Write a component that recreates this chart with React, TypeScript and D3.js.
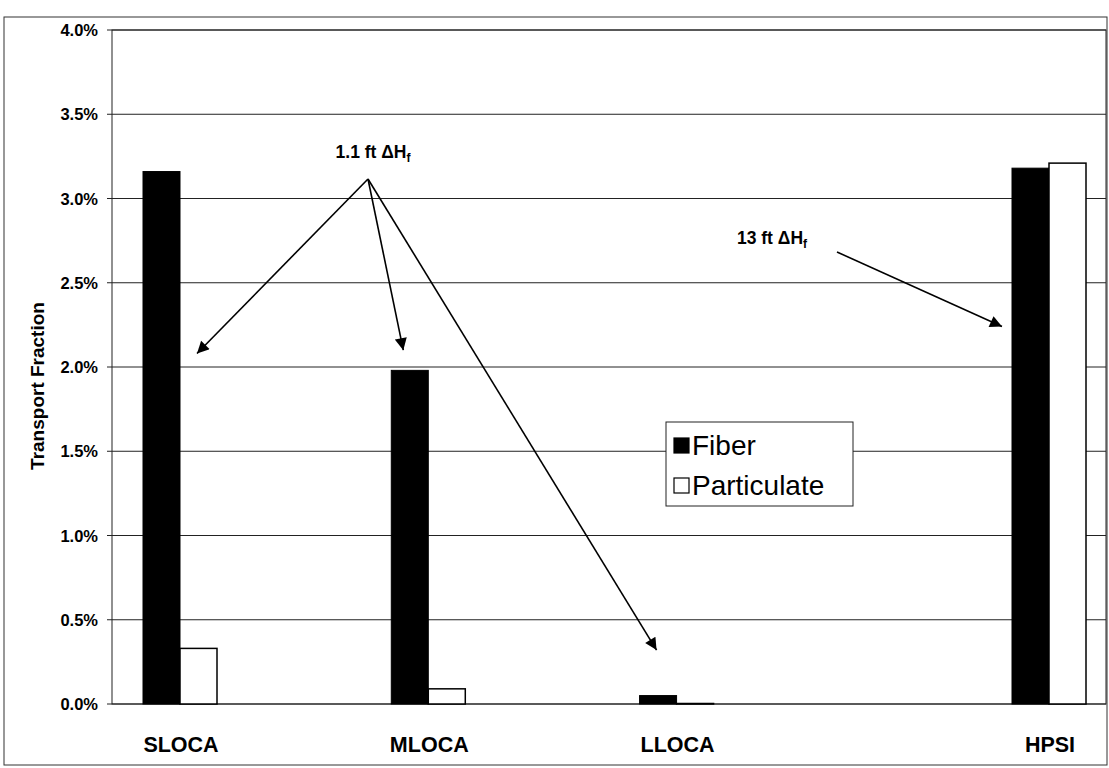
import React from "react";
import * as d3 from "d3";

// categories and their slot on the x axis (HPSI sits half a slot further out)
const categories = ["SLOCA", "MLOCA", "LLOCA", "HPSI"];
const categorySlots = [0, 1, 2, 3.5];
const fiberValues = [0.0316, 0.0198, 0.0005, 0.0318];
const particulateValues = [0.0033, 0.0009, 0.00003, 0.0321];
const yTicks = [0, 0.005, 0.01, 0.015, 0.02, 0.025, 0.03, 0.035, 0.04];
const seriesNames = ["Fiber", "Particulate"];

const W = 1109;
const H = 768;
const FONT = "'Liberation Sans', Arial, sans-serif";

const App = () => {
  const plot = { left: 112, right: 1106, top: 30, bottom: 704 };

  const y = d3.scaleLinear().domain([0, 0.04]).range([plot.bottom, plot.top]);
  const x = d3.scaleLinear().domain([0, 3.5]).range([180, 1049]);
  const barW = 37;
  const fmt = d3.format(".1%");

  // annotation arrows: start point in pixel space, end at a chart location
  const arrowFrom = { x: 368, y: 179 };
  const arrowTargets = [
    { x: x(categorySlots[0]) + 17, y: y(0.0208) },
    { x: x(categorySlots[1]) - 25, y: y(0.021) },
    { x: x(categorySlots[2]) - 20, y: y(0.0032) },
  ];
  const arrow2 = { x1: 837, y1: 252, x2: x(categorySlots[3]) - 47, y2: y(0.0224) };

  return (
    <svg width={W} height={H} style={{ display: "block", position: "absolute", left: 0, top: 0 }}>
      <defs>
        <marker id="ah" viewBox="0 0 10 10" refX="10" refY="5" markerWidth="15" markerHeight="12" orient="auto" markerUnits="userSpaceOnUse">
          <path d="M0,0 L10,5 L0,10 z" fill="#000" />
        </marker>
      </defs>
      <rect x={0} y={0} width={W} height={H} fill="#fff" />
      {/* outer frame */}
      <rect x={4} y={17} width={1103} height={748} fill="none" stroke="#333" strokeWidth={1} />

      {/* gridlines */}
      {yTicks.map((t) => (
        <g key={t}>
          <line x1={plot.left - 5} x2={plot.right} y1={y(t)} y2={y(t)} stroke="#222" strokeWidth={1} />
          <text x={plot.left - 14} y={y(t) + 6} textAnchor="end" fontFamily={FONT} fontWeight="bold" fontSize={16.5}>
            {fmt(t)}
          </text>
        </g>
      ))}
      <rect x={plot.left} y={plot.top} width={plot.right - plot.left} height={plot.bottom - plot.top} fill="none" stroke="#222" strokeWidth={1} />

      {/* bars */}
      {categories.map((c, i) => {
        const cx = x(categorySlots[i]);
        return (
          <g key={c}>
            <rect x={cx - barW} y={y(fiberValues[i])} width={barW} height={y(0) - y(fiberValues[i])} fill="#000" stroke="#000" />
            <rect x={cx} y={y(particulateValues[i])} width={barW} height={y(0) - y(particulateValues[i])} fill="#fff" stroke="#000" strokeWidth={1.5} />
            <text x={cx + 1} y={752} textAnchor="middle" fontFamily={FONT} fontWeight="bold" fontSize={21.5}>
              {c}
            </text>
          </g>
        );
      })}

      {/* y axis title */}
      <text transform="translate(44,386) rotate(-90)" textAnchor="middle" fontFamily={FONT} fontWeight="bold" fontSize={19}>
        Transport Fraction
      </text>

      {/* annotations */}
      <text x={373} y={158} textAnchor="middle" fontFamily={FONT} fontWeight="bold" fontSize={17.5}>
        1.1 ft ΔH<tspan fontSize={12} dy={4}>f</tspan>
      </text>
      {arrowTargets.map((t, i) => (
        <line key={i} x1={arrowFrom.x} y1={arrowFrom.y} x2={t.x} y2={t.y} stroke="#000" strokeWidth={1.6} markerEnd="url(#ah)" />
      ))}
      <text x={772} y={244} textAnchor="middle" fontFamily={FONT} fontWeight="bold" fontSize={17.5}>
        13 ft ΔH<tspan fontSize={12} dy={4}>f</tspan>
      </text>
      <line x1={arrow2.x1} y1={arrow2.y1} x2={arrow2.x2} y2={arrow2.y2} stroke="#000" strokeWidth={1.6} markerEnd="url(#ah)" />

      {/* legend */}
      <g transform="translate(666,422)">
        <rect x={0} y={0} width={187} height={84} fill="#fff" stroke="#222" strokeWidth={1} />
        {seriesNames.map((s, i) => (
          <g key={s} transform={`translate(0,${i * 40})`}>
            <rect x={8} y={16} width={15} height={15} fill={i === 0 ? "#000" : "#fff"} stroke="#000" strokeWidth={1.2} />
            <text x={26} y={33} fontFamily={FONT} fontSize={28}>
              {s}
            </text>
          </g>
        ))}
      </g>
    </svg>
  );
};

export default App;
